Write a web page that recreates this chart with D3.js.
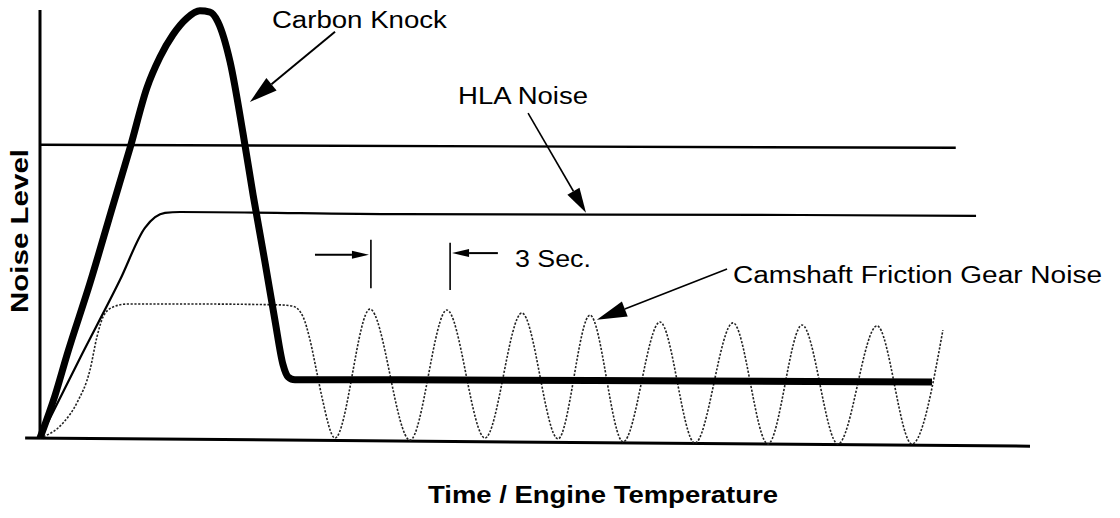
<!DOCTYPE html>
<html>
<head>
<meta charset="utf-8">
<script src="https://cdn.jsdelivr.net/npm/d3@7/dist/d3.min.js"></script>
<style>
  html, body { margin: 0; padding: 0; background: #fff; }
  svg { display: block; }
  text { font-family: "Liberation Sans", Arial, Helvetica, sans-serif; fill: #000; }
</style>
</head>
<body>
<svg id="chart" width="1120" height="518"></svg>
<script>
// ---- Data (x = time units, y = noise level 0..100) ----
const seriesNames = ["Threshold", "HLA Noise", "Carbon Knock", "Camshaft Friction Gear Noise"];

const thresholdX = [0, 37.0];
const thresholdY = [68.5, 67.8];

const hlaX = [0, 1.62, 3.23, 4.24, 4.65, 5.05, 5.66, 14.55, 30.71, 37.82];
const hlaY = [0, 18.7, 36.9, 49.1, 51.6, 52.6, 52.8, 52.3, 52.1, 51.9];

const carbonX = [0, 0.61, 1.09, 2.02, 2.95, 3.64, 4.32, 4.85, 5.37, 5.94, 6.46, 6.87, 7.19, 7.68, 8.2, 8.61, 9.09, 9.49, 9.82, 10.02, 10.3, 14.55, 26.67, 36.04];
const carbonY = [0, 10.0, 19.4, 36.2, 54.4, 67.8, 81.8, 89.0, 94.2, 98.1, 99.8, 99.5, 97.2, 87.9, 71.3, 56.8, 41.1, 27.6, 17.1, 14.3, 13.6, 13.6, 13.3, 13.1];

const camX = [0, 0.93, 1.49, 2.02, 2.30, 2.55, 2.95, 3.52, 6.46, 9.70, 10.22, 10.63, 10.91, 11.19, 11.39, 11.92, 13.33, 14.95, 16.44, 17.98, 19.47, 20.93, 22.22, 23.56, 25.05, 26.46, 28.0, 29.41, 30.79, 32.24, 33.82, 35.23, 36.48];
const camY = [0, 3.5, 8.2, 15.9, 23.6, 28.3, 30.6, 31.3, 31.3, 31.1, 30.8, 28.3, 22.9, 15.2, 9.6, 0, 30.1, -0.5, 29.9, 0, 29.2, -0.2, 28.7, -0.9, 27.1, -1.2, 26.9, -1.4, 26.4, -1.4, 26.2, -1.4, 25.2];

const axisTitles = ["Time / Engine Temperature", "Noise Level"];
const labelTexts = ["Carbon Knock", "HLA Noise", "Camshaft Friction Gear Noise", "3 Sec."];

// ---- Setup ----
const svg = d3.select("#chart");
const x = d3.scaleLinear().domain([0, 40]).range([40, 1030]);
const y = d3.scaleLinear().domain([0, 100]).range([438, 10]);

const zip = (xs, ys) => xs.map((v, i) => [v, ys[i]]);
const line = d3.line().x(d => x(d[0])).y(d => y(d[1])).curve(d3.curveMonotoneX);

// ---- Axes ----
svg.append("line")
  .attr("x1", x(0)).attr("x2", x(0))
  .attr("y1", y(100)).attr("y2", y(0) + 1)
  .attr("stroke", "#000").attr("stroke-width", 3);
svg.append("path")
  .attr("d", d3.line().x(d => x(d[0])).y(d => y(d[1]))([[-0.6, 0], [40, -1.9]]))
  .attr("stroke", "#000").attr("stroke-width", 3).attr("fill", "none");

// ---- Series ----
svg.append("path").attr("d", line(zip(thresholdX, thresholdY)))
  .attr("fill", "none").attr("stroke", "#000").attr("stroke-width", 2.4);

svg.append("path").attr("d", line(zip(camX, camY)))
  .attr("fill", "none").attr("stroke", "#222").attr("stroke-width", 1.6)
  .attr("stroke-dasharray", "2.2,1.6");

svg.append("path").attr("d", line(zip(hlaX, hlaY)))
  .attr("fill", "none").attr("stroke", "#000").attr("stroke-width", 2.2);

svg.append("path").attr("d", line(zip(carbonX, carbonY)))
  .attr("fill", "none").attr("stroke", "#000").attr("stroke-width", 7)
  .attr("stroke-linejoin", "round");

// ---- Annotations (positions in data units) ----
function arrow(tail, tip, len, halfW, sw) {
  const x1 = x(tail[0]), y1 = y(tail[1]), x2 = x(tip[0]), y2 = y(tip[1]);
  const dx = x2 - x1, dy = y2 - y1, d = Math.hypot(dx, dy);
  const ux = dx / d, uy = dy / d;
  const bx = x2 - ux * len, by = y2 - uy * len;
  svg.append("line").attr("x1", x1).attr("y1", y1).attr("x2", bx).attr("y2", by)
    .attr("stroke", "#000").attr("stroke-width", sw);
  svg.append("polygon")
    .attr("points", [[x2, y2], [bx - uy * halfW, by + ux * halfW], [bx + uy * halfW, by - ux * halfW]].map(p => p.join(",")).join(" "))
    .attr("fill", "#000");
}

function label(txt, pos, len) {
  svg.append("text").attr("x", x(pos[0])).attr("y", y(pos[1]))
    .attr("font-size", 23).attr("textLength", len).attr("lengthAdjust", "spacingAndGlyphs")
    .text(txt);
}

label(labelTexts[0], [9.37, 95.8], 175);
arrow([11.92, 94.9], [8.48, 78.5], 28, 8, 2);

label(labelTexts[1], [16.89, 78.0], 130);
arrow([19.72, 75.9], [22.06, 52.6], 25, 7, 1.6);

label(labelTexts[2], [28.0, 36.2], 369);
arrow([27.76, 39.5], [22.5, 27.6], 30, 8, 1.6);

label(labelTexts[3], [19.19, 40.0], 76);
// 3 second markers
[[13.37, 46.3, 35.0], [16.57, 45.6, 34.6]].forEach(m => {
  svg.append("line").attr("x1", x(m[0])).attr("x2", x(m[0]))
    .attr("y1", y(m[1])).attr("y2", y(m[2]))
    .attr("stroke", "#000").attr("stroke-width", 1.6);
});
arrow([11.11, 42.8], [13.29, 42.8], 17, 4, 2);
arrow([18.5, 43.2], [16.65, 43.2], 17, 4, 2);

// ---- Axis titles ----
svg.append("text").attr("x", 428).attr("y", 503)
  .attr("font-size", 24).attr("font-weight", "bold")
  .attr("textLength", 350).attr("lengthAdjust", "spacingAndGlyphs")
  .text(axisTitles[0]);

svg.append("text")
  .attr("transform", "translate(28,313) rotate(-90)")
  .attr("font-size", 24).attr("font-weight", "bold")
  .attr("textLength", 164).attr("lengthAdjust", "spacingAndGlyphs")
  .text(axisTitles[1]);
</script>
</body>
</html>
